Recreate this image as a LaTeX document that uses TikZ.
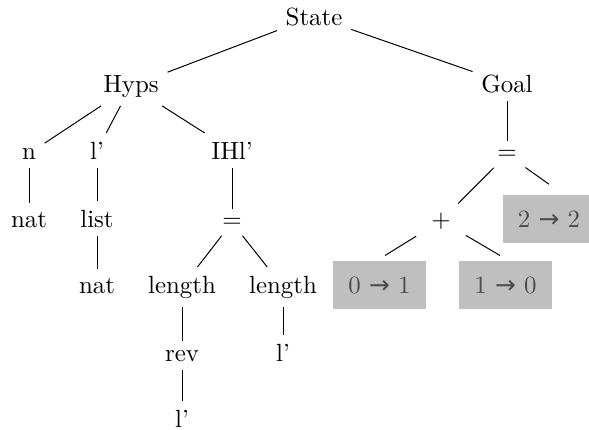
\documentclass[tikz,border=0pt]{standalone}
\usepackage{fontspec}
\newfontfamily\arrowfont{DejaVu Sans}
\newcommand{\goesto}{{\arrowfont →}}
\begin{document}
\begin{tikzpicture}[x=0.4021pt,y=-0.4021pt,
  lbl/.style={anchor=base},
  subst/.style={anchor=base,fill=black!25,text=black!70,
    minimum width=37.4pt,minimum height=19.3pt,inner sep=0pt},
  edge/.style={draw=black,line width=0.4pt}]
\clip (0,0) rectangle (589,429);

% root and first level
\node[lbl] (state) at (314,25) {State};
\node[lbl] (hyps)  at (131,92) {Hyps};
\node[lbl] (goal)  at (507,92) {Goal};

% hypotheses
\node[lbl] (n)    at (29,159)  {n};
\node[lbl] (l1)   at (97,159)  {l'};
\node[lbl] (ihl)  at (232,159) {IHl'};
\node[lbl] (nat1) at (29,227)  {nat};
\node[lbl] (list) at (97,227)  {list};
\node[lbl] (nat2) at (97,293)  {nat};
\node[lbl] (eqa)  at (232,227) {=};
\node[lbl] (len1) at (182,293) {length};
\node[lbl] (len2) at (283,293) {length};
\node[lbl] (rev)  at (182,361) {rev};
\node[lbl] (l2)   at (283,361) {l'};
\node[lbl] (l3)   at (182,427) {l'};

% goal
\node[lbl] (eqb)  at (507,159) {=};
\node[lbl] (plus) at (441,227) {+};
\node[subst] (b22) at (549,227) {2 \goesto{} 2};
\node[subst] (b01) at (379.5,293) {0 \goesto{} 1};
\node[subst] (b10) at (505.5,293) {1 \goesto{} 0};

% edges
\draw[edge] (state) -- (hyps);
\draw[edge] (state) -- (goal);
\draw[edge] (hyps) -- (n);
\draw[edge] (hyps) -- (l1);
\draw[edge] (hyps) -- (ihl);
\draw[edge] (n) -- (nat1);
\draw[edge] (l1) -- (list);
\draw[edge] (list) -- (nat2);
\draw[edge] (ihl) -- (eqa);
\draw[edge] (eqa) -- (len1);
\draw[edge] (eqa) -- (len2);
\draw[edge] (len1) -- (rev);
\draw[edge] (rev) -- (l3);
\draw[edge] (len2) -- (l2);
\draw[edge] (goal) -- (eqb);
\draw[edge] (eqb) -- (plus);
\draw[edge] (eqb) -- ([shift={(0,-10)}]b22.north);
\draw[edge,shorten <=3pt] (plus) -- ([shift={(5.5,-5)}]b01.north);
\draw[edge,shorten <=3pt] (plus) -- ([shift={(-5.5,-5)}]b10.north);
\end{tikzpicture}
\end{document}
